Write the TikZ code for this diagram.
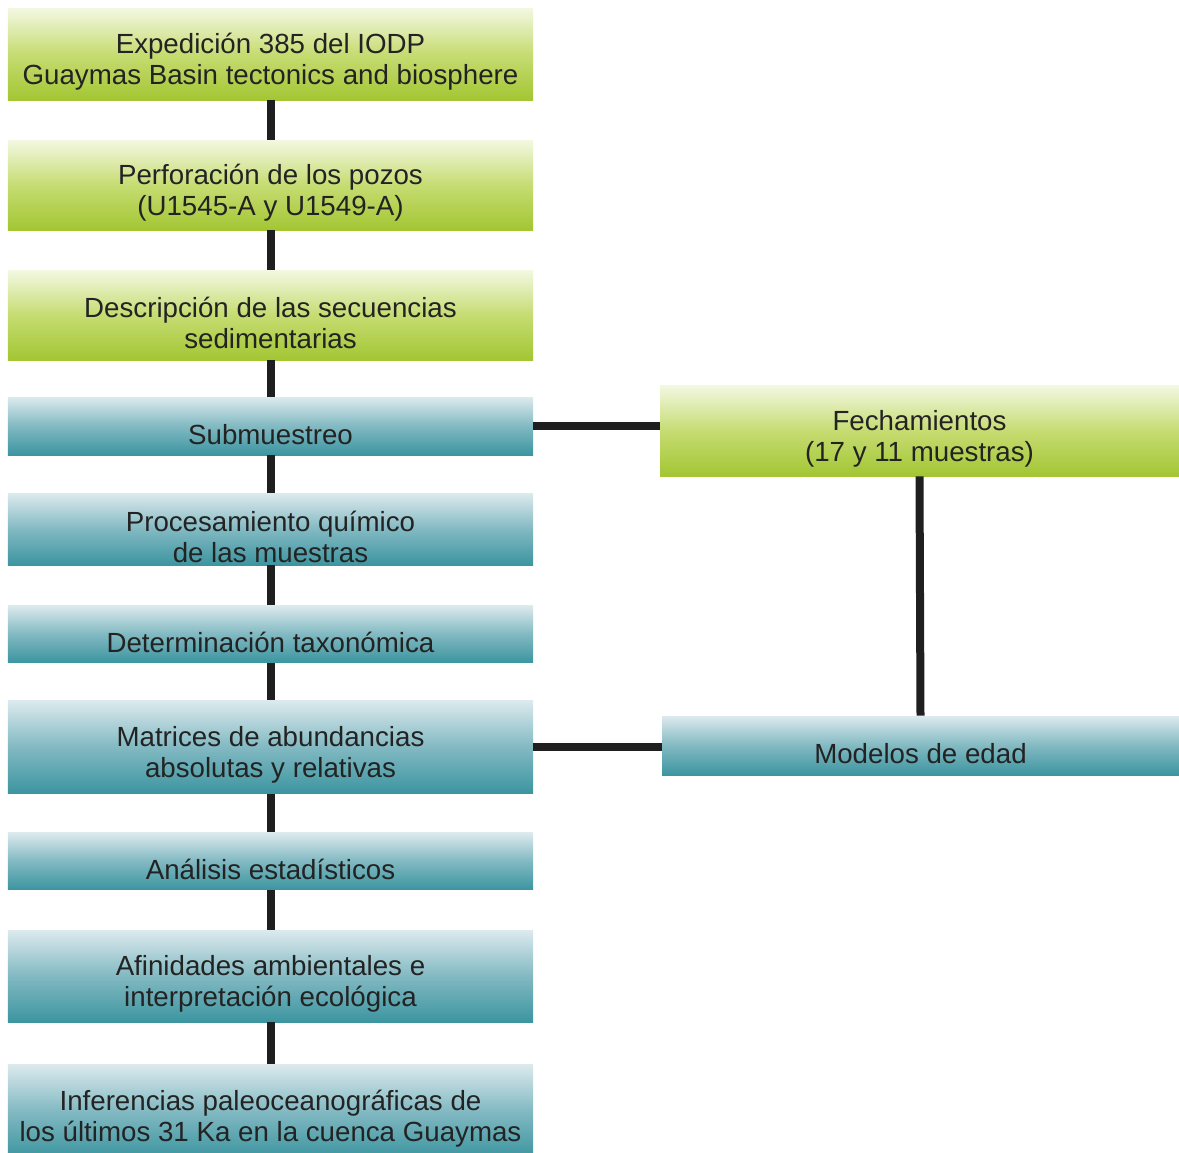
\documentclass[tikz,border=0pt]{standalone}
\usepackage{fontspec}
\setmainfont{Liberation Sans}
\usetikzlibrary{positioning,calc}

\definecolor{vtop}{HTML}{F3F8E2}
\definecolor{vmid}{HTML}{C6DC72}
\definecolor{vbot}{HTML}{A3C633}
\definecolor{ttop}{HTML}{DCEAEE}
\definecolor{tmid}{HTML}{82B9C2}
\definecolor{tbot}{HTML}{3C95A0}
\definecolor{txt}{HTML}{232323}
\newcommand{\bajar}{\rule{0pt}{26pt}}

\begin{document}
\begin{tikzpicture}[font=\fontsize{19.7}{22}\selectfont]
\tikzstyle{box}=[inner sep=0pt,align=center,text=txt,minimum width=13.125cm]
\tikzstyle{verde}=[box,top color=vtop,bottom color=vbot,middle color=vmid]
\tikzstyle{azul}=[box,top color=ttop,bottom color=tbot,middle color=tmid]
\tikzstyle{link}=[line width=0.2cm,black!88]
\useasboundingbox (0,0) rectangle (29.475,-28.8);
% left column, top to bottom
\foreach \n/\y/\h/\s/\t in {exped/-1.35/2.3/verde/{Expedición 385 del IODP\\Guaymas Basin tectonics and biosphere},
  perfo/-4.625/2.25/verde/{Perforación de los pozos\\(U1545-A y U1549-A)},
  descr/-7.875/2.25/verde/{Descripción de las secuencias\\sedimentarias},
  subm/-10.65/1.45/azul/{Submuestreo},
  proc/-13.225/1.8/azul/{Procesamiento químico\\de las muestras},
  deter/-15.85/1.425/azul/{Determinación taxonómica},
  matr/-18.675/2.325/azul/{Matrices de abundancias\\absolutas y relativas},
  anal/-21.525/1.425/azul/{Análisis estadísticos},
  afin/-24.4/2.3/azul/{Afinidades ambientales e\\interpretación ecológica},
  infer/-27.775/2.35/azul/{Inferencias paleoceanográficas de\\los últimos 31 Ka en la cuenca Guaymas}}
  \node[\s,minimum height=\h cm] (\n) at (6.7625,\y) {\bajar\t};
% right column
\node[verde,minimum width=12.975cm,minimum height=2.275cm] (fecha) at (22.9875,-10.7625) {\bajar Fechamientos\\(17 y 11 muestras)};
\node[azul,minimum width=12.925cm,minimum height=1.475cm] (edad) at (23.0125,-18.6375) {\bajar Modelos de edad};
\foreach \a/\b in {exped/perfo,perfo/descr,descr/subm,subm/proc,proc/deter,deter/matr,matr/anal,anal/afin,afin/infer}
  \draw[link] (\a.south) -- (\b.north);
\draw[link] (subm.east) -- (subm.east -| fecha.west);
\draw[link] (fecha.south) -- (edad.north);
\draw[link] (matr.east) -- (matr.east -| edad.west);
\end{tikzpicture}
\end{document}
